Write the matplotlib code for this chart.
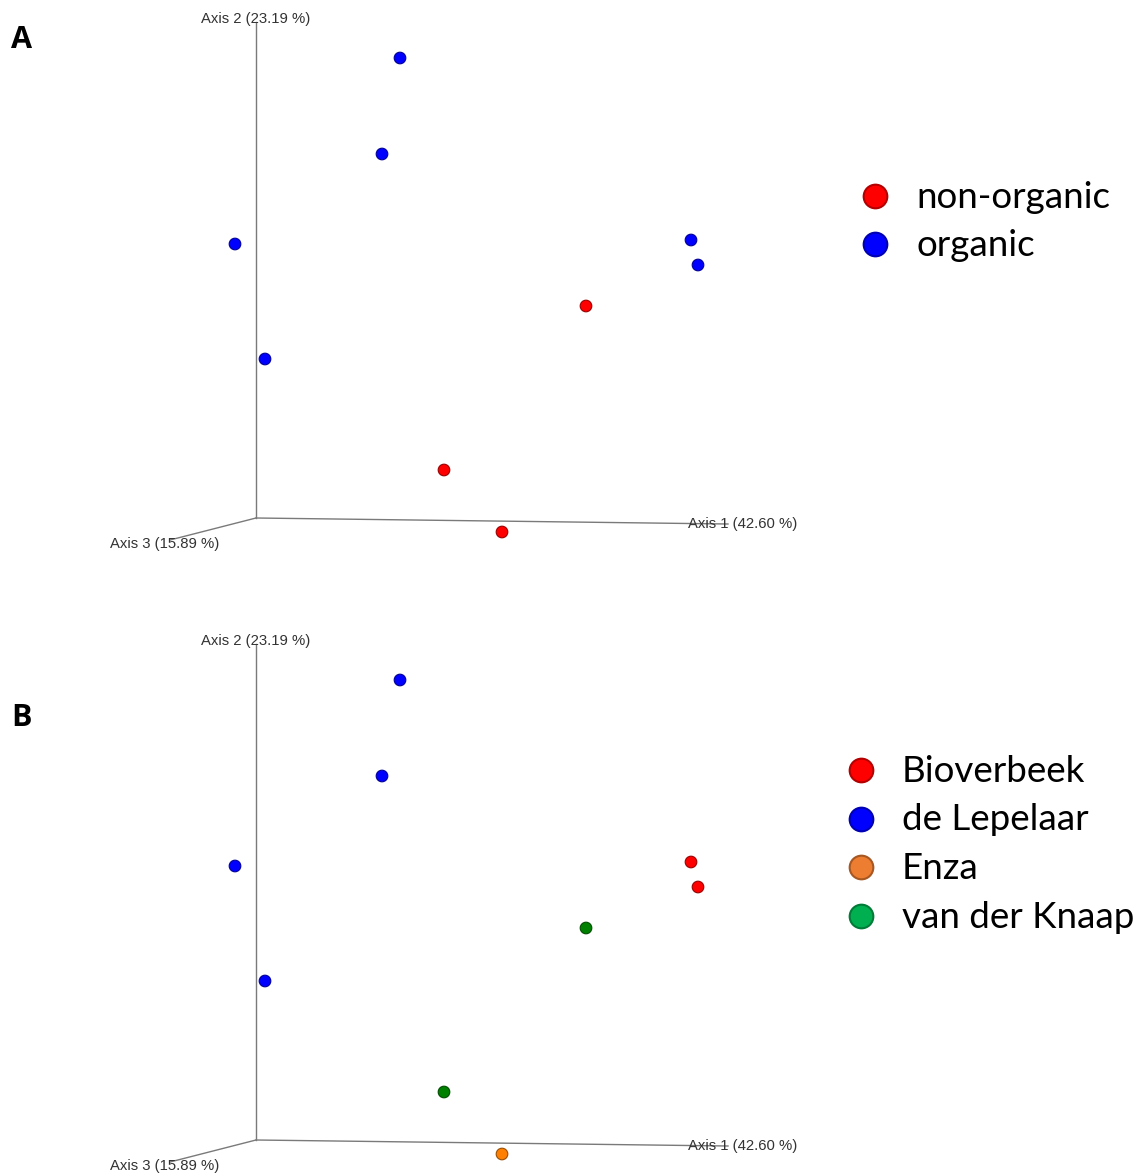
import numpy as np
from matplotlib import pyplot as plt
from matplotlib.colors import to_rgb

# projected PCoA coordinates (screen projection of the 3D view), panel-local
pc_x = [400, 382, 235, 265, 691, 698, 586, 444, 502]
pc_y = [58, 154, 244, 359, 240, 265, 306, 470, 532]

# grouping per sample
treatment = ["organic", "organic", "organic", "organic", "organic", "organic",
             "non-organic", "non-organic", "non-organic"]
company = ["de Lepelaar", "de Lepelaar", "de Lepelaar", "de Lepelaar",
           "Bioverbeek", "Bioverbeek", "van der Knaap", "van der Knaap", "Enza"]

treatment_levels = ["non-organic", "organic"]
treatment_colors = {"non-organic": "#ff0000", "organic": "#0000ff"}
company_levels = ["Bioverbeek", "de Lepelaar", "Enza", "van der Knaap"]
company_colors = {"Bioverbeek": "#ff0000", "de Lepelaar": "#0000ff",
                  "Enza": "#ff8000", "van der Knaap": "#008000"}
legend_colors = {"Bioverbeek": "#ff0000", "de Lepelaar": "#0000ff",
                 "Enza": "#ed7d31", "van der Knaap": "#00b050",
                 "non-organic": "#ff0000", "organic": "#0000ff"}

axis_labels = ["Axis 1 (42.60 %)", "Axis 2 (23.19 %)", "Axis 3 (15.89 %)"]

W, H = 1144, 1173
PANEL_H = 622


def darker(c, f=0.6):
    r, g, b = to_rgb(c)
    return (r * f, g * f, b * f)


def draw_axes_frame(ax):
    origin = (256, 518)
    line_kw = dict(color="#7a7a7a", lw=1.0, zorder=1)
    ax.plot([origin[0], 256], [origin[1], 22], **line_kw)
    ax.plot([origin[0], 728], [origin[1], 524], **line_kw)
    ax.plot([origin[0], 170], [origin[1], 540], **line_kw)
    txt_kw = dict(fontsize=10.7, family="Liberation Sans", color="#333333", zorder=3)
    ax.text(688, 524, axis_labels[0], ha="left", va="center", **txt_kw)
    ax.text(201, 19, axis_labels[1], ha="left", va="center", **txt_kw)
    ax.text(110, 544, axis_labels[2], ha="left", va="center", **txt_kw)


def draw_panel(ax, groups, colors, levels, letter, letter_y, leg_x, leg_y0, leg_dy):
    ax.set_xlim(0, W)
    ax.set_ylim(PANEL_H, 0)
    ax.axis("off")
    draw_axes_frame(ax)
    cols = [colors[g] for g in groups]
    ax.scatter(pc_x, pc_y, s=70, c=cols, edgecolors=[darker(c) for c in cols],
               linewidths=0.8, zorder=4)
    ax.text(11, letter_y, letter, fontsize=22, fontweight="bold",
            family="Open Sans", ha="left", va="center")
    for i, lev in enumerate(levels):
        y = leg_y0 + i * leg_dy
        c = legend_colors[lev]
        ax.scatter([leg_x], [y], s=290, c=[c], edgecolors=[darker(c, 0.7)],
                   linewidths=1.5, zorder=4)
        ax.text(leg_x + 41, y + 1, lev, fontsize=26.5, family="Lato",
                ha="left", va="center")


fig = plt.figure(figsize=(W / 100, H / 100), dpi=100)
ax_a = fig.add_axes([0, 1 - PANEL_H / H, 1, PANEL_H / H])
ax_b = fig.add_axes([0, 1 - 2 * PANEL_H / H, 1, PANEL_H / H])

draw_panel(ax_a, treatment, treatment_colors, treatment_levels, "A", 40, 875, 196, 48)
draw_panel(ax_b, company, company_colors, company_levels, "B", 96, 861, 148, 48.7)

fig.savefig("out.png", dpi=100, facecolor="white")
